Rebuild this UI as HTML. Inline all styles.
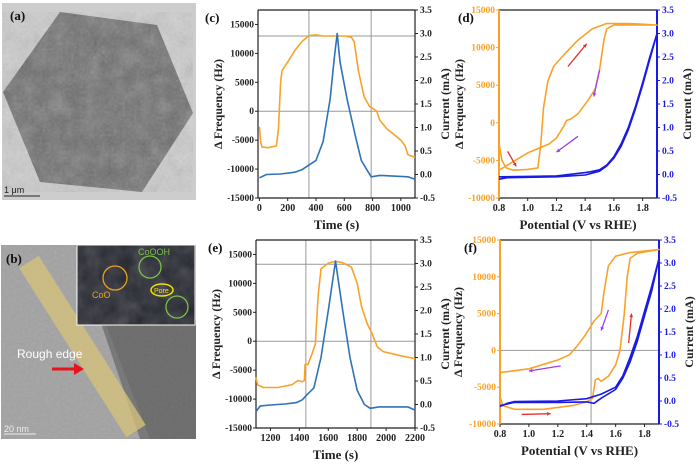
<!DOCTYPE html>
<html><head><meta charset="utf-8"><style>
body{margin:0;background:#fff;width:700px;height:467px;overflow:hidden;font-family:"Liberation Serif",serif}
svg{position:absolute;left:0;top:0}
</style></head><body>
<svg id="fig" width="700" height="467" xmlns="http://www.w3.org/2000/svg">
<defs>
<filter id="noise" x="0" y="0" width="100%" height="100%"><feTurbulence type="fractalNoise" baseFrequency="0.35" numOctaves="2" seed="3"/><feColorMatrix type="saturate" values="0"/><feComponentTransfer><feFuncA type="linear" slope="0.55"/></feComponentTransfer></filter>
<filter id="noise2" x="0" y="0" width="100%" height="100%"><feTurbulence type="fractalNoise" baseFrequency="0.06" numOctaves="3" seed="7"/><feColorMatrix type="saturate" values="0"/><feComponentTransfer><feFuncA type="linear" slope="0.6"/></feComponentTransfer></filter>
</defs>
<g>
<rect x="2" y="3" width="194" height="197" fill="#cdcdcd"/>
<polygon points="60,12 157,25 193,113 142,192 40,182 3,92" fill="#6a6a6a"/>
<polygon points="60,12 157,25 193,113 142,192 40,182 3,92" fill="#000" filter="url(#noise2)" opacity="0.6"/>
<polygon points="60,12 157,25 193,113 142,192 40,182 3,92" fill="#fff" filter="url(#noise)" opacity="0.4"/>
<text x="10" y="20" font-size="13" font-weight="bold" fill="#111">(a)</text>
<line x1="4" y1="196" x2="40" y2="196" stroke="#222" stroke-width="1"/>
<text x="4" y="193" font-size="9" fill="#222" font-family="Liberation Sans,sans-serif">1 μm</text>
</g>
<g>
<rect x="1" y="245" width="195" height="194" fill="#8e8e8e"/>
<polygon points="1,245 75,245 150,439 1,439" fill="#a2a2a2"/>
<rect x="1" y="245" width="195" height="194" fill="#fff" filter="url(#noise)" opacity="0.3"/>
<polygon points="100,320 196,320 196,439 140,439" fill="#444" opacity="0.45"/>
<line x1="29" y1="262" x2="136" y2="431" stroke="#d8c37a" stroke-width="23" opacity="0.75"/>
<rect x="77" y="245" width="118" height="80" fill="#24262e" stroke="#fff" stroke-width="1"/>
<rect x="77" y="245" width="118" height="80" fill="#9aa0b8" filter="url(#noise2)" opacity="0.5"/>
<circle cx="115" cy="278" r="12" fill="none" stroke="#e8a21c" stroke-width="1.3"/>
<circle cx="150" cy="267" r="11" fill="none" stroke="#7ac24a" stroke-width="1.3"/>
<circle cx="177" cy="307" r="11" fill="none" stroke="#7ac24a" stroke-width="1.3"/>
<ellipse cx="162" cy="290" rx="11" ry="6" fill="none" stroke="#f2e000" stroke-width="1.5"/>
<text x="92" y="298" font-size="9" fill="#e8a21c" font-family="Liberation Sans,sans-serif">CoO</text>
<text x="138" y="255" font-size="9" fill="#7ac24a" font-family="Liberation Sans,sans-serif">CoOOH</text>
<text x="154" y="293" font-size="7" fill="#f2e000" font-family="Liberation Sans,sans-serif">Pore</text>
<text x="17" y="358" font-size="12" fill="#fff" font-family="Liberation Sans,sans-serif">Rough edge</text>
<line x1="52" y1="369" x2="75" y2="369" stroke="#e8141c" stroke-width="3"/>
<polygon points="74,363 84,369 74,375" fill="#e8141c"/>
<text x="6" y="263" font-size="13" font-weight="bold" fill="#111">(b)</text>
<line x1="4" y1="434" x2="36" y2="434" stroke="#eee" stroke-width="1"/>
<text x="4" y="432" font-size="9" fill="#eee" font-family="Liberation Sans,sans-serif">20 nm</text>
</g>
<g id="charts"></g>
</svg>
<script>
// ---- data arrays ----
const cFreqT=[0,10,20,60,120,135,150,160,200,250,300,350,400,450,600,650,670,700,740,780,800,830,850,900,950,1000,1030,1050,1100];
const cFreqV=[-2700,-5500,-6200,-6300,-6000,-3000,5000,7000,8500,10500,12000,13100,13200,13000,13000,12800,12000,7000,2500,800,500,0,-1500,-3000,-4000,-5000,-6000,-7500,-8000];
const cCurT=[0,50,150,250,300,350,400,450,500,530,550,570,620,680,720,760,790,850,1050,1100];
const cCurV=[-0.07,0,0.01,0.05,0.1,0.2,0.3,0.7,1.6,2.5,3.0,2.4,1.6,0.8,0.3,0.1,-0.05,-0.02,-0.05,-0.1];
const dFreqE=[0.8,0.82,0.85,0.9,1.0,1.07,1.09,1.11,1.14,1.18,1.25,1.35,1.45,1.55,1.7,1.9,1.6,1.55,1.53,1.5,1.47,1.42,1.35,1.3,1.27,1.25,1.2,1.15,1.0,0.8];
const dFreqV=[-2700,-5000,-6000,-6300,-6200,-6000,-3000,2000,5500,7500,9000,11000,12500,13200,13200,13000,13000,12500,11000,7000,4500,3000,1200,500,300,-500,-2000,-2800,-4000,-6300];
const dCurE=[0.8,0.85,1.0,1.2,1.4,1.5,1.55,1.6,1.65,1.7,1.75,1.8,1.85,1.9,1.85,1.8,1.75,1.7,1.65,1.6,1.55,1.5,1.44,1.4,1.2,1.0,0.8];
const dCurV=[-0.1,-0.07,-0.06,-0.05,-0.01,0.07,0.18,0.35,0.6,0.95,1.4,1.9,2.45,3.0,2.5,1.95,1.45,1.0,0.65,0.38,0.2,0.1,0.06,0.04,-0.03,-0.04,-0.05];
const eFreqT=[1100,1110,1150,1250,1350,1390,1420,1435,1440,1460,1490,1510,1530,1550,1600,1650,1700,1760,1800,1830,1870,1900,1940,1980,2100,2200];
const eFreqV=[-6200,-7500,-8000,-8000,-7500,-6800,-7000,-6800,-4000,-4000,-2000,-500,8000,12500,13500,13800,13600,12800,10000,6000,3000,1500,-1000,-1800,-2500,-3000];
const eCurT=[1100,1130,1200,1300,1380,1420,1450,1500,1550,1600,1650,1700,1750,1800,1850,1890,1950,2150,2200];
const eCurV=[-0.15,-0.03,-0.01,0.01,0.04,0.1,0.2,0.35,1.0,2.0,3.05,2.0,1.0,0.3,0.0,-0.08,-0.05,-0.05,-0.12];
const fFreqE=[0.8,0.82,0.9,1.1,1.3,1.4,1.44,1.46,1.48,1.5,1.55,1.6,1.63,1.66,1.68,1.7,1.75,1.9,1.7,1.6,1.55,1.52,1.5,1.45,1.42,1.38,1.33,1.28,1.2,1.0,0.85,0.8];
const fFreqV=[-6300,-7500,-8000,-8000,-7500,-7000,-6500,-4000,-3800,-4200,-3500,-2000,0,5000,10000,12500,13200,13700,13300,12800,11500,8000,5000,4000,3000,1800,500,-600,-1300,-2500,-2900,-3000];
const fCurE=[0.8,0.85,0.9,1.2,1.4,1.5,1.6,1.65,1.7,1.75,1.8,1.85,1.9,1.85,1.8,1.75,1.7,1.65,1.6,1.5,1.45,1.4,1.2,1.0,0.9,0.8];
const fCurV=[-0.12,-0.05,-0.01,0.0,0.05,0.15,0.3,0.55,0.95,1.4,1.95,2.5,3.1,2.4,1.85,1.3,0.85,0.5,0.25,0.06,-0.05,-0.02,-0.03,-0.03,-0.03,-0.1];
const timeTicksC=[0,200,400,600,800,1000];
const timeTicksE=[1200,1400,1600,1800,2000,2200];
const freqTicksTime=[-15000,-10000,-5000,0,5000,10000,15000];
const freqTicksPot=[-10000,-5000,0,5000,10000,15000];
const potTicks=[0.8,1.0,1.2,1.4,1.6,1.8];
const curTicks=[-0.5,0.0,0.5,1.0,1.5,2.0,2.5,3.0,3.5];

const NS='http://www.w3.org/2000/svg';
const root=document.getElementById('charts');
function mk(tag,attrs,parent){const e=document.createElementNS(NS,tag);for(const k in attrs)e.setAttribute(k,attrs[k]);(parent||root).appendChild(e);return e;}
const OR='#f9a22a';

function chart(o){
  const g=mk('g',{});
  
  
  const X=v=>o.x0+(v-o.xd[0])/(o.xd[1]-o.xd[0])*(o.x1-o.x0);
  const YL=v=>o.y1-(v-o.yl[0])/(o.yl[1]-o.yl[0])*(o.y1-o.y0);
  const YR=v=>o.y1-(v+0.5)/4*(o.y1-o.y0);
  (o.vlines||[]).forEach(v=>mk('line',{x1:X(v),x2:X(v),y1:o.y0,y2:o.y1,stroke:'#999','stroke-width':1},g));
  (o.hlines||[]).forEach(v=>mk('line',{x1:o.x0,x2:o.x1,y1:YL(v),y2:YL(v),stroke:'#999','stroke-width':1},g));
  const lc=o.pot?OR:'#222', rc=o.pot?'#1a1ae6':'#222';
  mk('line',{x1:o.x0,x2:o.x1,y1:o.y1,y2:o.y1,stroke:'#222','stroke-width':1.2},g);
  mk('line',{x1:o.x0,x2:o.x1,y1:o.y0,y2:o.y0,stroke:'#222','stroke-width':1.2},g);
  mk('line',{x1:o.x0,x2:o.x0,y1:o.y0,y2:o.y1,stroke:lc,'stroke-width':o.pot?2:1.2},g);
  mk('line',{x1:o.x1,x2:o.x1,y1:o.y0,y2:o.y1,stroke:rc,'stroke-width':o.pot?2:1.2},g);
  o.xt.forEach(v=>{mk('line',{x1:X(v),x2:X(v),y1:o.y1,y2:o.y1+3,stroke:'#222'},g);
    const t=mk('text',{x:X(v),y:o.y1+13,'font-size':10,'font-weight':'bold','text-anchor':'middle',fill:'#222'},g);t.textContent=o.pot?v.toFixed(1):v;
    });
  o.ylt.forEach(v=>{mk('line',{x1:o.x0-3,x2:o.x0,y1:YL(v),y2:YL(v),stroke:lc},g);
    const t=mk('text',{x:o.x0-4,y:YL(v)+3,'font-size':9.5,'font-weight':'bold','text-anchor':'end',fill:lc},g);t.textContent=v;
    });
  curTicks.forEach(v=>{mk('line',{x1:o.x1,x2:o.x1+3,y1:YR(v),y2:YR(v),stroke:rc},g);
    const t=mk('text',{x:o.x1+5,y:YR(v)+3,'font-size':9.5,'font-weight':'bold',fill:rc},g);t.textContent=v.toFixed(1);
    });
  const line=(xs,ys,yf,col,w,name)=>{const p=mk('polyline',{points:xs.map((x,i)=>X(x).toFixed(1)+','+yf(ys[i]).toFixed(1)).join(' '),fill:'none',stroke:col,'stroke-width':w,'stroke-linejoin':'round'},g);
    };
  line(o.fx,o.fy,YL,OR,1.6,'frequency-line');
  line(o.cx,o.cy,YR,o.pot?'#1a1ae6':'#2f72b8',1.6,'current-line');
  const xl=mk('text',{x:(o.x0+o.x1)/2,y:o.y1+31,'font-size':13,'font-weight':'bold','text-anchor':'middle',fill:'#222'},g);
  xl.textContent=o.xlabel;
  const yl=mk('text',{transform:`translate(${o.x0-o.lgap},${(o.y0+o.y1)/2}) rotate(-90)`,'font-size':12,'font-weight':'bold','text-anchor':'middle',fill:'#222'},g);
  yl.textContent='Δ Frequency (Hz)';
  const yr=mk('text',{transform:`translate(${o.x1+34},${(o.y0+o.y1)/2}) rotate(-90)`,'font-size':12,'font-weight':'bold','text-anchor':'middle',fill:'#222'},g);
  yr.textContent='Current (mA)';
  const pl=mk('text',{x:o.lx,y:o.y0+12,'font-size':13,'font-weight':'bold',fill:'#111'},g);
  pl.textContent=o.label;
  (o.arrows||[]).forEach(a=>{const x1=X(a[0]),y1=YL(a[1]),x2=X(a[2]),y2=YL(a[3]);
    mk('line',{x1,y1,x2,y2,stroke:a[4],'stroke-width':1.3},g);
    const ang=Math.atan2(y2-y1,x2-x1),h=4;
    mk('polygon',{points:`${x2},${y2} ${x2-h*Math.cos(ang-0.5)},${y2-h*Math.sin(ang-0.5)} ${x2-h*Math.cos(ang+0.5)},${y2-h*Math.sin(ang+0.5)}`,fill:a[4]},g);});
}
chart({name:'chart-c',label:'(c)',lx:205,x0:258,x1:415,y0:10,y1:198,xd:[-10,1100],yl:[-15000,17500],xt:timeTicksC,ylt:freqTicksTime,
  fx:cFreqT,fy:cFreqV,cx:cCurT,cy:cCurV,vlines:[350,790],hlines:[0,13000],xlabel:'Time (s)',lgap:36});
chart({name:'chart-d',label:'(d)',lx:458,x0:499,x1:657,y0:10,y1:198,xd:[0.8,1.9],yl:[-10000,15000],xt:potTicks,ylt:freqTicksPot,pot:true,
  fx:dFreqE,fy:dFreqV,cx:dCurE,cy:dCurV,xlabel:'Potential (V vs RHE)',lgap:36,
  arrows:[[1.28,7500,1.41,10500,'#e83030'],[0.86,-3800,0.92,-5800,'#e83030'],[1.5,7000,1.46,3500,'#9b3ff0'],[1.35,-1800,1.2,-3900,'#9b3ff0']]});
chart({name:'chart-e',label:'(e)',lx:208,x0:256,x1:415,y0:240,y1:428,xd:[1100,2200],yl:[-15000,17500],xt:timeTicksE,ylt:freqTicksTime,
  fx:eFreqT,fy:eFreqV,cx:eCurT,cy:eCurV,vlines:[1445,1895],hlines:[0,13300],xlabel:'Time (s)',lgap:36});
chart({name:'chart-f',label:'(f)',lx:464,x0:500,x1:659,y0:240,y1:424,xd:[0.8,1.9],yl:[-10000,15000],xt:potTicks,ylt:freqTicksPot,pot:true,
  fx:fFreqE,fy:fFreqV,cx:fCurE,cy:fCurV,vlines:[1.43],hlines:[0],xlabel:'Potential (V vs RHE)',lgap:38,
  arrows:[[1.69,1000,1.71,5000,'#e83030'],[0.95,-8700,1.15,-8600,'#e83030'],[1.55,5500,1.5,2700,'#9b3ff0'],[1.22,-2100,1.0,-2800,'#9b3ff0']]});
</script>
</body></html>
